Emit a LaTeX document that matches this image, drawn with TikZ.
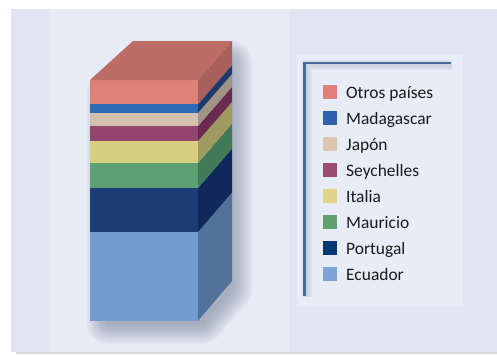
\documentclass[tikz,border=0pt]{standalone}
\usepackage{fontspec}
\setmainfont{Carlito}
\definecolor{outerbg}{HTML}{DFE5F1}
\definecolor{innerbg}{HTML}{E6EBF5}
\definecolor{legbg}{HTML}{E7ECF6}
\definecolor{legline}{HTML}{4A6A9C}
\definecolor{shadowc}{HTML}{7E879C}
\definecolor{txt}{HTML}{1A1A1A}
% front / side colours
\definecolor{otF}{HTML}{DD8077}\definecolor{otS}{HTML}{A8605C}\definecolor{otT}{HTML}{BE6C66}
\definecolor{maF}{HTML}{2E6AB5}\definecolor{maS}{HTML}{1F3A6E}
\definecolor{jaF}{HTML}{D4C0AE}\definecolor{jaS}{HTML}{A09484}
\definecolor{seF}{HTML}{93456E}\definecolor{seS}{HTML}{6B2B50}
\definecolor{itF}{HTML}{D7CE80}\definecolor{itS}{HTML}{A09A60}
\definecolor{muF}{HTML}{5CA074}\definecolor{muS}{HTML}{417A58}
\definecolor{poF}{HTML}{1C3C75}\definecolor{poS}{HTML}{10295A}
\definecolor{ecF}{HTML}{729BD0}\definecolor{ecS}{HTML}{527399}
% legend colours
\definecolor{otL}{HTML}{E07F77}\definecolor{maL}{HTML}{2F62AA}
\definecolor{jaL}{HTML}{DBC6B2}\definecolor{seL}{HTML}{9A4C72}
\definecolor{itL}{HTML}{DFD386}\definecolor{muL}{HTML}{63A070}
\definecolor{poL}{HTML}{043A74}\definecolor{ecL}{HTML}{7EA3D4}
\tikzset{
  legsq/.style={fill=#1, draw=none, minimum size=14bp, inner sep=0pt},
  legtxt/.style={anchor=base west, inner sep=0pt, text=txt, font=\fontsize{17.5}{20}\selectfont},
}
\begin{document}
\begin{tikzpicture}[x=1bp,y=-1bp]
\useasboundingbox (0,0) rectangle (497,354);
\fill[white] (0,0) rectangle (497,354);
% bottom shadow line
\fill[black!15] (16,351) rectangle (497,354);
% panels
\fill[outerbg] (11,9) rectangle (497,352);
\fill[innerbg] (50,9) rectangle (289,352);
% box shadow (blurred)
\foreach \w in {2,4,...,44}{
  \draw[shadowc, opacity=0.035, line width=\w bp, line join=round]
    (108,96) -- (141,62) -- (230,62) -- (230,290) -- (202,322) -- (108,322) -- cycle;
}
% layers: front face and side face
\newcommand{\layer}[4]{% front top y, front bottom y, front col, side col
  \pgfmathsetmacro{\bt}{41+(#1-80)*0.995851}
  \pgfmathsetmacro{\bb}{41+(#2-80)*0.995851}
  \fill[#3] (90,#1) rectangle (198,#2);
  \fill[#4] (198,#1) -- (232,\bt) -- (232,\bb) -- (198,#2) -- cycle;
}
\layer{232}{321}{ecF}{ecS}
\layer{188}{232}{poF}{poS}
\layer{163}{188}{muF}{muS}
\layer{141}{163}{itF}{itS}
\layer{126}{141}{seF}{seS}
\layer{113}{126}{jaF}{jaS}
\layer{104}{113}{maF}{maS}
\layer{80}{104}{otF}{otS}
% top face
\fill[otT] (90,80) -- (133,41) -- (232,41) -- (198,80) -- cycle;
% legend box
\fill[legbg] (297,55) rectangle (463,307);
\foreach \w in {10,8,6,4}{
  \draw[shadowc, opacity=0.06, line width=\w bp] (306.5,297) -- (306.5,65) -- (452,65);
}
\draw[legline, line width=2.2bp] (304.5,296) -- (304.5,63) -- (451,63);
% legend entries
\node[legsq=otL] (s1) at (330,92) {};
\node[legsq=maL] (s2) at (330,118) {};
\node[legsq=jaL] (s3) at (330,144) {};
\node[legsq=seL] (s4) at (330,170) {};
\node[legsq=itL] (s5) at (330,196) {};
\node[legsq=muL] (s6) at (330,222) {};
\node[legsq=poL] (s7) at (330,248) {};
\node[legsq=ecL] (s8) at (330,274) {};
\node[legtxt] (t1) at (346,98.5) {Otros países};
\node[legtxt] (t2) at (346,124.5) {Madagascar};
\node[legtxt] (t3) at (346,150.5) {Japón};
\node[legtxt] (t4) at (346,176.5) {Seychelles};
\node[legtxt] (t5) at (346,202.5) {Italia};
\node[legtxt] (t6) at (346,228.5) {Mauricio};
\node[legtxt] (t7) at (346,254.5) {Portugal};
\node[legtxt] (t8) at (346,280.5) {Ecuador};
\end{tikzpicture}
\end{document}
